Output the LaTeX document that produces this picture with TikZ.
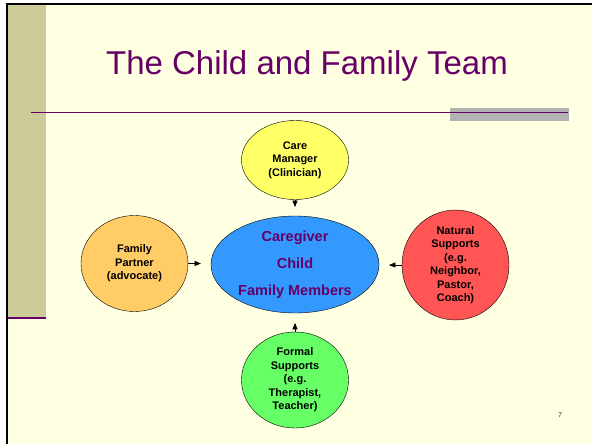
\documentclass[tikz,border=0pt]{standalone}
\usepackage{fontspec}
\setmainfont{Liberation Sans}
\usetikzlibrary{arrows, shapes.geometric}
\definecolor{slidebg}{HTML}{FFFFE1}
\definecolor{sidebar}{HTML}{CCCC99}
\definecolor{plum}{HTML}{660066}
\definecolor{barGray}{HTML}{B2B2B2}

\begin{document}
\begin{tikzpicture}[x=1pt, y=-1pt,
	bubble/.style={ellipse, draw, thin, inner sep=0pt, minimum width=107pt,
		minimum height=96pt, align=center,
		font=\fontsize{11}{13.5}\selectfont\bfseries}]
	\useasboundingbox (0,0) rectangle (592,444);
	% slide frame
	\fill [slidebg] (7,4) rectangle (592,444);
	\fill [sidebar] (8,4) rectangle (46,318);
	\draw [plum, line width=1.5pt] (8,318) -- (46,318);
	\draw [line width=2.5pt] (7,444) -- (7,4) -- (592,4);
	\fill [barGray] (450,107.5) rectangle (569,121);
	\draw [plum, line width=1.2pt] (31,112.5) -- (568,112.5);
	\path (307,75) node [anchor=base, text=plum, font=\fontsize{33}{38}\selectfont] {The Child and Family Team};

	% team
	\node [bubble, fill={rgb,255:red,255;green,255;blue,102}, minimum height=79pt] (manager) at (295,160) {Care\\Manager\\(Clinician)};
	\node [ellipse, draw, thin, fill={rgb,255:red,51;green,153;blue,255}, minimum width=168pt, minimum height=97pt, inner sep=0pt, align=center, text=plum, font=\fontsize{14.5}{27}\selectfont\bfseries] (family) at (295,264.5) {Caregiver\\Child\\Family Members};
	\node [bubble, fill={rgb,255:red,255;green,204;blue,102}] (partner) at (134.5,263.5) {Family\\Partner\\(advocate)};
	\node [bubble, fill={rgb,255:red,255;green,85;blue,85}, minimum height=94pt] (natural) at (455.5,265) {Natural\\Supports\\(e.g.\\Neighbor,\\Pastor,\\Coach)};
	\node [bubble, fill={rgb,255:red,102;green,255;blue,102}] (formal) at (295,380) {Formal\\Supports\\(e.g.\\Therapist,\\Teacher)};

	\draw [-triangle 45, shorten >=9pt] (manager.south) -- (family.north);
	\draw [-triangle 45, shorten >=10pt] (partner.east) -- (partner.east -| family.west);
	\draw [-triangle 45, shorten >=10pt] (natural.west) -- (natural.west -| family.east);
	\draw [-triangle 45, shorten >=10pt] (formal.north) -- (family.south);

	\path (560,415) node [text=darkgray, font=\fontsize{7}{8}\selectfont] {7};
\end{tikzpicture}
\end{document}
